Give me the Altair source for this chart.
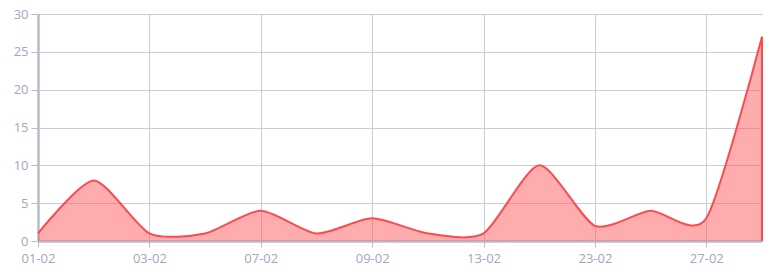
import altair as alt
import pandas as pd

dates = ["01-02", "02-02", "03-02", "05-02", "07-02", "08-02", "09-02",
         "11-02", "13-02", "18-02", "23-02", "25-02", "27-02", "28-02"]
values = [1, 8, 1, 1, 4, 1, 3, 1, 1, 10, 2, 4, 3, 27]
shown_labels = ["01-02", "03-02", "07-02", "09-02", "13-02", "23-02", "27-02"]
y_ticks = [0, 5, 10, 15, 20, 25, 30]

df = pd.DataFrame({"date": dates, "value": values})
last = df.tail(1)

axis_color = "#b9bacd"
grid_color = "#cacbdb"
text_color = "#a3a6bf"
font = "Open Sans"

x = alt.X("date:N", sort=dates, scale=alt.Scale(type="point", padding=0),
          axis=alt.Axis(values=shown_labels, title=None, labelAngle=0, grid=True,
                        gridColor=grid_color, domainColor=axis_color, domainWidth=2.5,
                        tickColor=axis_color, tickSize=6, labelPadding=5,
                        labelColor=text_color, labelFont=font, labelFontSize=13))
y = alt.Y("value:Q", scale=alt.Scale(domain=[0, 30], nice=False),
          axis=alt.Axis(values=y_ticks, title=None, grid=True, labelOverlap=False,
                        gridColor=grid_color, domainColor=axis_color, domainWidth=2.5,
                        tickColor=axis_color, tickSize=7, labelPadding=3,
                        labelColor=text_color, labelFont=font, labelFontSize=13))

base = alt.Chart(df)
area = base.mark_area(interpolate="cardinal", tension=0.3, color="#ff5257",
                      opacity=0.48).encode(x=x, y=y)
line = base.mark_line(interpolate="cardinal", tension=0.3, color="#f94c4f",
                      strokeWidth=2).encode(x=x, y=y)
edge = alt.Chart(last).mark_rule(color="#f94c4f", strokeWidth=2).encode(
    x=x, y=y, y2=alt.datum(0))

chart = alt.layer(area, line, edge).properties(
    width=724, height=227, autosize=alt.AutoSizeParams(type="none"),
    padding={"left": 38, "top": 14, "right": 17, "bottom": 34},
    background="white",
).configure_view(stroke=None)

chart.save("out.html", embed_options={"renderer": "svg", "actions": False})
